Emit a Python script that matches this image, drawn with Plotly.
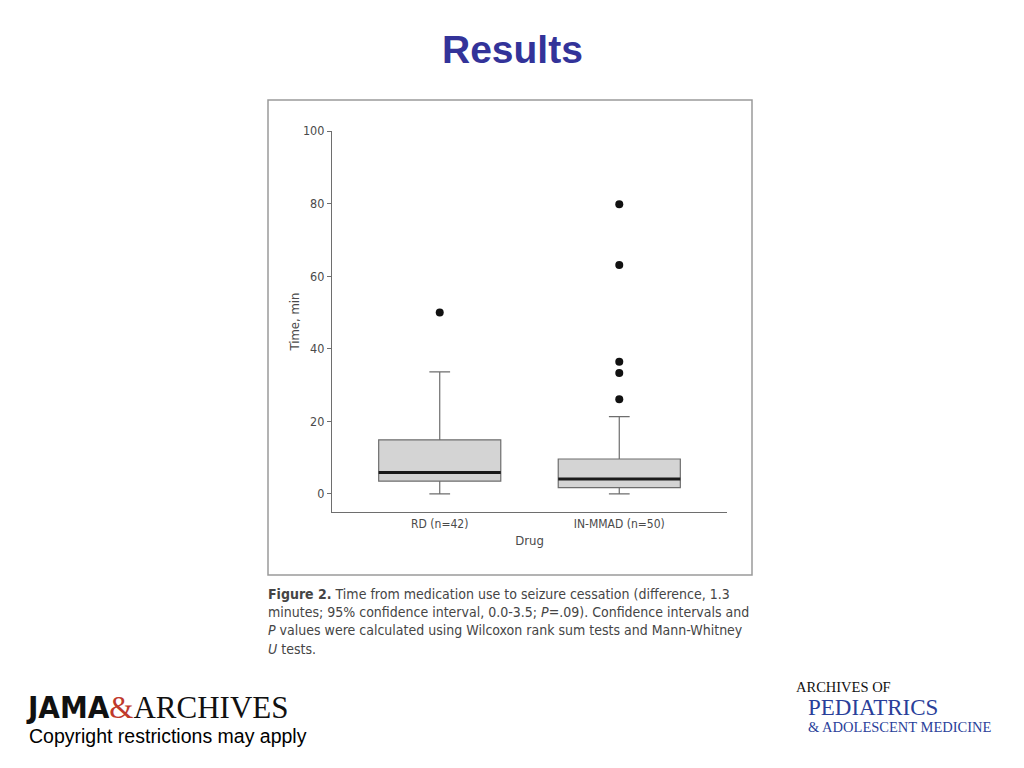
import plotly.graph_objects as go

# ---- data ----
groups = ["RD (n=42)", "IN-MMAD (n=50)"]
positions = [0, 1]
q1_vals = [3.5, 1.7]
median_vals = [5.9, 4.1]
q3_vals = [14.9, 9.6]
lower_whisker = [0, 0]
upper_whisker = [33.6, 21.3]
outliers_rd = [50]
outliers_inmmad = [26.1, 33.3, 36.4, 63.1, 79.8]
y_ticks = [0, 20, 40, 60, 80, 100]

OFF = 8  # page body margin
W, H = 1024 - OFF, 768 - OFF
L, R, T, B = 332 - OFF, 727 - OFF, 131 - OFF, 512 - OFF
BOX_W = 0.68
NARROW = "DejaVu Sans Condensed, Liberation Sans Narrow, Arial Narrow, sans-serif"


def px(x):
    return (x - OFF - L) / (R - L)


def py(y):
    return (B - (y - OFF)) / (B - T)


fig = go.Figure()

fig.add_trace(go.Box(
    x=positions,
    q1=q1_vals, median=median_vals, q3=q3_vals,
    lowerfence=lower_whisker, upperfence=upper_whisker,
    width=BOX_W, whiskerwidth=0.17,
    fillcolor="#d4d4d4",
    line=dict(color="#6e6e6e", width=1.2),
    boxpoints=False, showlegend=False, hoverinfo="skip",
))

# thick median lines
for p, m in zip(positions, median_vals):
    fig.add_trace(go.Scatter(
        x=[p - BOX_W / 2, p + BOX_W / 2], y=[m, m], mode="lines",
        line=dict(color="#1a1a1a", width=3), showlegend=False, hoverinfo="skip",
    ))

# outliers
out_x = [positions[0]] * len(outliers_rd) + [positions[1]] * len(outliers_inmmad)
out_y = outliers_rd + outliers_inmmad
fig.add_trace(go.Scatter(
    x=out_x, y=out_y, mode="markers",
    marker=dict(color="#111111", size=8), showlegend=False, hoverinfo="skip",
))

fig.update_layout(
    width=W, height=H,
    margin=dict(l=L, r=W - R, t=T, b=H - B, autoexpand=False),
    paper_bgcolor="white", plot_bgcolor="white",
    font=dict(family=NARROW, color="#4a4a4a", size=12),
    xaxis=dict(
        range=[-0.6, 1.6], tickvals=positions, ticktext=groups,
        showgrid=False, zeroline=False, showline=True, linecolor="#6e6e6e",
        linewidth=1.2, ticks="", tickfont=dict(size=12, family=NARROW, color="#4a4a4a"),
        title=dict(text="Drug", font=dict(size=13, family=NARROW, color="#4a4a4a"), standoff=6),
    ),
    yaxis=dict(
        range=[-5, 100], tickvals=y_ticks, showgrid=False, zeroline=False,
        showline=True, linecolor="#6e6e6e", linewidth=1.2,
        ticks="outside", ticklen=4, tickcolor="#6e6e6e",
        tickfont=dict(size=12.5, family=NARROW, color="#4a4a4a"),
        title=dict(text="Time, min", font=dict(size=13, family=NARROW, color="#4a4a4a"), standoff=0),
    ),
)

# figure frame
fig.add_shape(type="rect", xref="paper", yref="paper",
              x0=px(268), x1=px(752), y0=py(575), y1=py(100),
              line=dict(color="#9a9a9a", width=1.5), fillcolor="rgba(0,0,0,0)")

# slide title
fig.add_annotation(text="<b>Results</b>", xref="paper", yref="paper",
                   x=px(512), y=py(50), showarrow=False, xanchor="center", yanchor="middle",
                   font=dict(family="Liberation Sans, Arial, sans-serif", size=39, color="#333399"))

# caption
caption = ("<b>Figure 2.</b> Time from medication use to seizure cessation (difference, 1.3<br>"
           "minutes; 95% confidence interval, 0.0-3.5; <i>P</i>=.09). Confidence intervals and<br>"
           "<i>P</i> values were calculated using Wilcoxon rank sum tests and Mann-Whitney<br>"
           "<i>U</i> tests.")
fig.add_annotation(text=caption, xref="paper", yref="paper",
                   x=px(266), y=py(584), showarrow=False, xanchor="left", yanchor="top",
                   align="left",
                   font=dict(family=NARROW, size=14, color="#454545"))

# footer left
fig.add_annotation(text="<b>JAMA</b><span style='color:#c0392b;font-family:Liberation Serif'>&amp;</span>"
                        "<span style='font-family:Liberation Serif'>ARCHIVES</span>",
                   xref="paper", yref="paper", x=px(24), y=py(707), showarrow=False,
                   xanchor="left", yanchor="middle",
                   font=dict(family=NARROW, size=31, color="#111111"))
fig.add_annotation(text="Copyright restrictions may apply", xref="paper", yref="paper",
                   x=px(27), y=py(736), showarrow=False, xanchor="left", yanchor="middle",
                   font=dict(family="Liberation Sans, Arial, sans-serif", size=19.5, color="#000000"))

# footer right logo
fig.add_annotation(text="ARCHIVES OF", xref="paper", yref="paper",
                   x=px(794), y=py(687), showarrow=False, xanchor="left", yanchor="middle",
                   font=dict(family="Liberation Serif, serif", size=14.5, color="#111111"))
fig.add_annotation(text="PEDIATRICS", xref="paper", yref="paper",
                   x=px(806), y=py(707), showarrow=False, xanchor="left", yanchor="middle",
                   font=dict(family="Liberation Serif, serif", size=23, color="#2a3f9a"))
fig.add_annotation(text="&amp; ADOLESCENT MEDICINE", xref="paper", yref="paper",
                   x=px(806), y=py(727), showarrow=False, xanchor="left", yanchor="middle",
                   font=dict(family="Liberation Serif, serif", size=14.5, color="#2a3f9a"))

fig.write_html("out.html")
